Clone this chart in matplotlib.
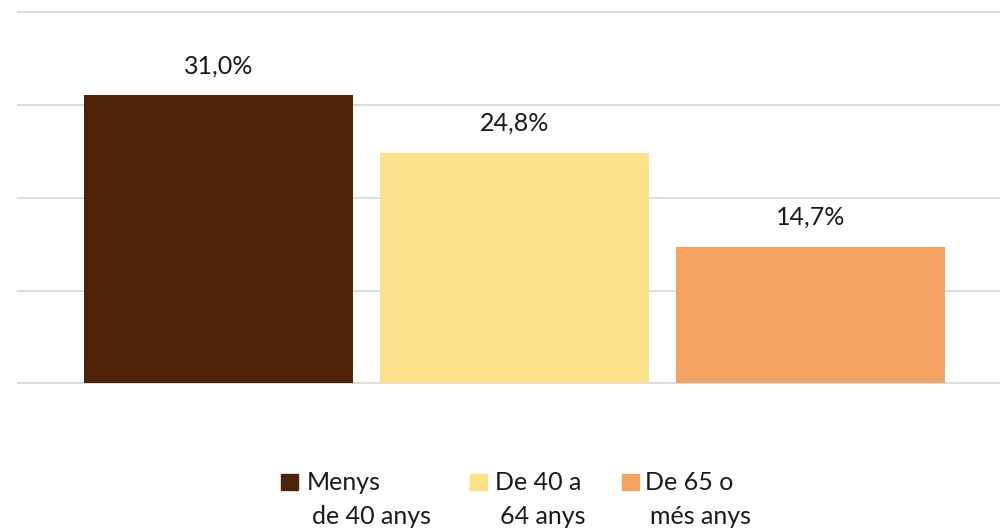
import matplotlib
matplotlib.use("Agg")
import matplotlib.pyplot as plt
from matplotlib.patches import Rectangle

# data
groups = ["Menys\nde 40 anys", "De 40 a\n64 anys", "De 65 o\nmés anys"]
values = [31.0, 24.8, 14.7]
colors = ["#4E2409", "#FDE18A", "#F4A261"]

plt.rcParams["font.family"] = ["Lato", "DejaVu Sans"]

W, H = 1000, 530
fig = plt.figure(figsize=(W / 100, H / 100), dpi=100)
ax = fig.add_axes([0.017, 0.2677, 0.983, 0.7274])

x = list(range(len(values)))
bars = ax.bar(x, values, width=0.907, color=colors, zorder=3)

for b, v in zip(bars, values):
    ax.annotate(f"{v:.1f}%".replace(".", ","),
                (b.get_x() + b.get_width() / 2, v),
                xytext=(0, 13), textcoords="offset points",
                ha="center", va="bottom", fontsize=18, color="#1a1a1a")

ax.set_xlim(-0.68, 2.64)
ax.set_ylim(-0.5, 41)
ax.set_yticks([0, 10, 20, 30, 40])
ax.yaxis.grid(True, color="#D9D9D9", linewidth=1.3, zorder=0)
ax.tick_params(left=False, bottom=False, labelleft=False, labelbottom=False)
for s in ax.spines.values():
    s.set_visible(False)

# legend drawn by hand so the swatch sits next to the first line
sw_x = [281, 470, 622]
tx_x = [307, 495, 645]
for i, lab in enumerate(groups):
    l1, l2 = lab.split("\n")
    fig.add_artist(Rectangle((sw_x[i] / W, 1 - 490 / H), 17 / W, 16 / H,
                             transform=fig.transFigure, color=colors[i]))
    fig.text(tx_x[i] / W, 1 - 490 / H, l1, fontsize=18, va="baseline", ha="left", color="#1a1a1a")
    fig.text((tx_x[i] + 5) / W, 1 - 524 / H, l2, fontsize=18, va="baseline", ha="left", color="#1a1a1a")

fig.savefig("out.png", dpi=100)
